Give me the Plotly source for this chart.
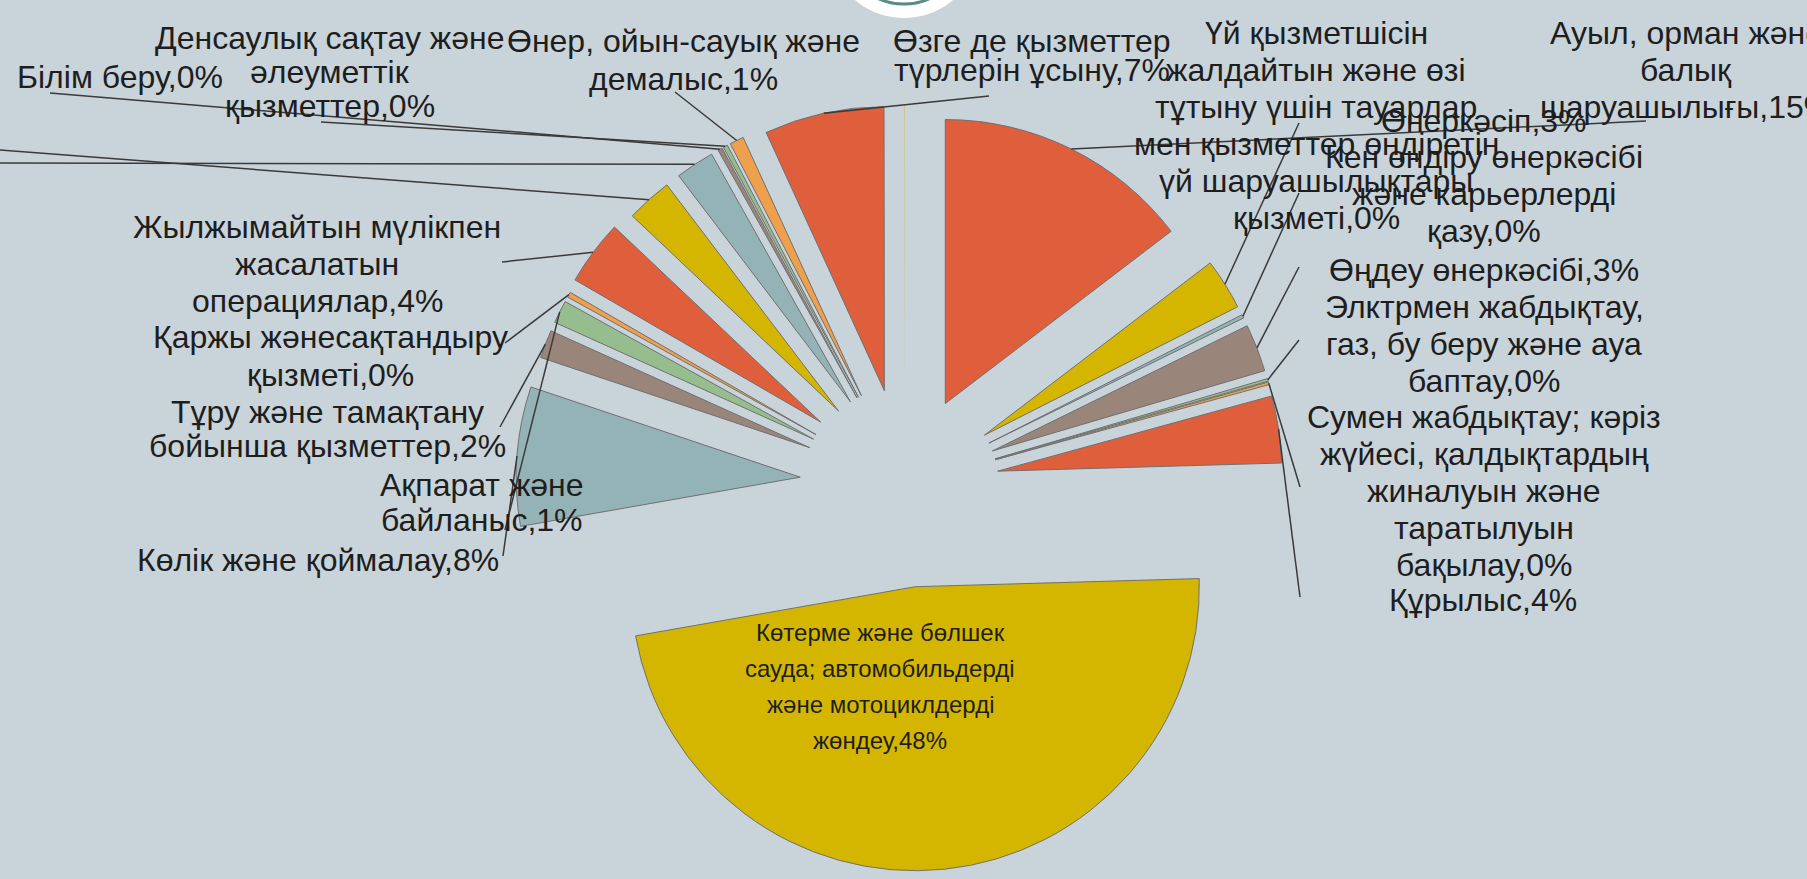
import math
import plotly.graph_objects as go

W, H = 1807, 879

# sectors in chart order (clockwise from 12 o'clock)
sectors = [
    "Ауыл, орман және балық шаруашылығы",
    "Өнеркәсіп",
    "Кен өндіру өнеркәсібі және карьерлерді қазу",
    "Өңдеу өнеркәсібі",
    "Элктрмен жабдықтау, газ, бу беру және ауа баптау",
    "Сумен жабдықтау; кәріз жүйесі, қалдықтардың жиналуын және таратылуын бақылау",
    "Құрылыс",
    "Көтерме және бөлшек сауда; автомобильдерді және мотоциклдерді жөндеу",
    "Көлік және қоймалау",
    "Тұру және тамақтану бойынша қызметтер",
    "Ақпарат және байланыс",
    "Қаржы жәнесақтандыру қызметі",
    "Жылжымайтын мүлікпен жасалатын операциялар",
    "Кәсіби, ғылыми және техникалық қызмет",
    "Әкімшілік және қосалқы қызмет көрсету",
    "Білім беру",
    "Денсаулық сақтау және әлеуметтік қызметтер",
    "Өнер, ойын-сауық және демалыс",
    "Өзге де қызметтер түрлерін ұсыну",
    "Үй қызметшісін жалдайтын және өзі тұтыну үшін тауарлар мен қызметтер өндіретін үй шаруашылықтары қызметі",
]
shares = [14.6, 2.9, 0.2, 2.7, 0.15, 0.15, 3.8, 47.6, 7.9, 1.6,
          1.3, 0.3, 3.7, 2.6, 2.2, 0.25, 0.25, 0.8, 6.8, 0.02]

# label texts as printed on the chart, one entry per line (None = cut off, not shown)
label_lines = [
    ["Ауыл, орман және", "балық", "шаруашылығы,15%"],
    ["Өнеркәсіп,3%"],
    ["Кен өндіру өнеркәсібі", "және карьерлерді", "қазу,0%"],
    ["Өңдеу өнеркәсібі,3%"],
    ["Элктрмен жабдықтау,", "газ, бу беру және ауа", "баптау,0%"],
    ["Сумен жабдықтау; кәріз", "жүйесі, қалдықтардың", "жиналуын және", "таратылуын", "бақылау,0%"],
    ["Құрылыс,4%"],
    ["Көтерме және бөлшек", "сауда; автомобильдерді", "және мотоциклдерді", "жөндеу,48%"],
    ["Көлік және қоймалау,8%"],
    ["Тұру және тамақтану", "бойынша қызметтер,2%"],
    ["Ақпарат және", "байланыс,1%"],
    ["Қаржы жәнесақтандыру", "қызметі,0%"],
    ["Жылжымайтын мүлікпен", "жасалатын", "операциялар,4%"],
    None,
    None,
    ["Білім беру,0%"],
    ["Денсаулық сақтау және", "әлеуметтік", "қызметтер,0%"],
    ["Өнер, ойын-сауық және", "демалыс,1%"],
    ["Өзге де қызметтер", "түрлерін ұсыну,7%"],
    ["Үй қызметшісін", "жалдайтын және өзі", "тұтыну үшін тауарлар",
     "мен қызметтер өндіретін", "үй шаруашылықтары", "қызметі,0%"],
]

palette = ["#DF5E3C", "#D4B600", "#93B3B6", "#998579", "#96BD8E", "#EFA04C"]
colors = [palette[i % 6] for i in range(len(shares))]
edge_colors = ["#707070"] * (len(shares) - 1) + ["rgba(0,0,0,0)"]
pulls = [0.32, 0.33, 0.33, 0.33, 0.33, 0.33, 0.33, 0.36, 0.37, 0.36,
         0.36, 0.36, 0.37, 0.35, 0.35, 0.35, 0.35, 0.35, 0.34, 0.34]

# pie placement in pixels
CX, CY, R = 905, 485, 284
half = R * (1 + max(pulls))

# label placement (px): centre x, first line y, line step
label_pos = {0: (1686, 33, 37), 1: (1484, 121, 37), 2: (1484, 157, 37),
             3: (1484, 270, 37), 4: (1484, 307, 37), 5: (1484, 417, 37),
             6: (1483, 600, 37), 7: (880, 632, 36), 8: (318, 560, 37),
             9: (327, 412, 34), 10: (482, 485, 35), 11: (330, 337, 38),
             12: (317, 227, 37), 15: (120, 77, 37), 16: (330, 38, 34),
             17: (683, 41, 38), 18: (1032, 41, 29), 19: (1316, 33, 37)}
leader_end = {0: (1646, 121), 1: (1299, 123), 2: (1299, 193), 3: (1299, 267),
              4: (1299, 340), 5: (1300, 487), 6: (1300, 597), 8: (503, 556),
              9: (500, 427), 10: (505, 530), 11: (505, 343), 12: (502, 262),
              13: (0, 150), 14: (0, 163), 15: (50, 93), 16: (321, 122),
              17: (675, 92), 18: (989, 96)}


def px(x):
    return x / W


def py(y):
    return 1 - y / H


def outer_point(i):
    total = sum(shares)
    cum = sum(shares[:i])
    theta = 2 * math.pi * (cum + shares[i] / 2) / total
    d = (1 + pulls[i]) * R
    return CX + d * math.sin(theta), CY - d * math.cos(theta)


fig = go.Figure(go.Pie(
    labels=sectors,
    values=shares,
    sort=False,
    direction="clockwise",
    rotation=0,
    pull=pulls,
    marker=dict(colors=colors, line=dict(color=edge_colors, width=1)),
    textinfo="none",
    hoverinfo="label+percent",
    showlegend=False,
    domain=dict(x=[(CX - half) / W, (CX + half) / W],
                y=[1 - (CY + half) / H, 1 - (CY - half) / H]),
))

shapes = []
for i, (ex, ey) in leader_end.items():
    ox, oy = outer_point(i)
    shapes.append(dict(type="line", xref="paper", yref="paper",
                       x0=px(ox), y0=py(oy), x1=px(ex), y1=py(ey),
                       line=dict(color="#3a3a3a", width=1.5)))

# decorative circle at the top of the slide
shapes.append(dict(type="circle", xref="paper", yref="paper",
                   x0=px(904 - 76), x1=px(904 + 76), y0=py(-58 + 76), y1=py(-58 - 76),
                   fillcolor="white", line=dict(width=0)))
shapes.append(dict(type="circle", xref="paper", yref="paper",
                   x0=px(904 - 62), x1=px(904 + 62), y0=py(-58 + 62), y1=py(-58 - 62),
                   fillcolor="rgba(0,0,0,0)", line=dict(color="#5B8B88", width=3)))

annotations = []
for i, (lx, ly, step) in label_pos.items():
    size = 24 if i == 7 else 32
    for k, line in enumerate(label_lines[i]):
        annotations.append(dict(x=px(lx), y=py(ly + k * step), xref="paper", yref="paper",
                                text=line, showarrow=False,
                                xanchor="center", yanchor="middle",
                                font=dict(size=size, color="#1e1e1e")))

fig.update_layout(
    width=W, height=H,
    margin=dict(l=0, r=0, t=0, b=0),
    paper_bgcolor="#C8D3DA",
    plot_bgcolor="#C8D3DA",
    font=dict(family="Liberation Sans, Arial, sans-serif", color="#1e1e1e"),
    shapes=shapes,
    annotations=annotations,
)

fig.write_html("out.html", config={"displayModeBar": False},
               post_script="document.body.style.margin='0px';")
